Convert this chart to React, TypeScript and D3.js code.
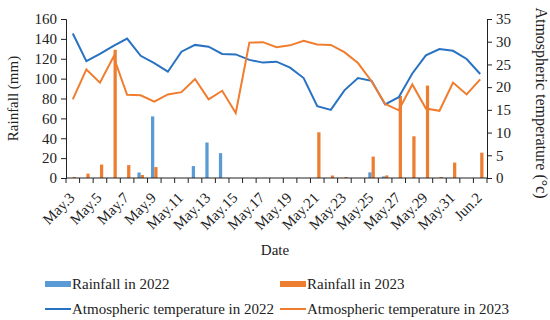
import React, { useEffect, useRef } from 'react';
import * as d3 from 'd3';

const dates = [
  'May.3', 'May.4', 'May.5', 'May.6', 'May.7', 'May.8', 'May.9', 'May.10', 'May.11', 'May.12',
  'May.13', 'May.14', 'May.15', 'May.16', 'May.17', 'May.18', 'May.19', 'May.20', 'May.21', 'May.22',
  'May.23', 'May.24', 'May.25', 'May.26', 'May.27', 'May.28', 'May.29', 'May.30', 'May.31', 'Jun.1', 'Jun.2',
];

const rain2022 = [0, 0, 0, 0, 0, 5.5, 62, 0, 0, 12, 35.7, 25, 0, 0, 0, 0, 0, 0, 0, 0, 0, 0, 5.7, 1.6, 0, 0, 0, 0, 0, 0, 0];
const rain2023 = [1, 4.4, 13.5, 129, 13, 3, 11, 0, 0, 0, 0, 0, 0, 0, 0, 0, 0, 0, 46, 2.5, 1, 0, 21.5, 2.6, 82.5, 42, 93, 1, 15.5, 0, 25.5];
const temp2022 = [31.8, 25.7, 27.3, 29.1, 30.7, 26.9, 25.3, 23.4, 27.8, 29.3, 28.9, 27.3, 27.2, 26.0, 25.4, 25.6, 24.3, 22.0, 15.8, 15.0, 19.3, 22.0, 21.4, 16.2, 17.8, 23.0, 27.0, 28.4, 28.0, 26.2, 22.9];
const temp2023 = [17.3, 23.9, 21.0, 26.7, 18.3, 18.2, 16.8, 18.4, 18.9, 21.8, 17.3, 19.2, 14.3, 29.8, 29.9, 28.8, 29.2, 30.2, 29.4, 29.3, 27.7, 25.3, 21.3, 16.3, 14.9, 20.6, 15.3, 14.8, 21.0, 18.4, 21.7];

const rainTicks = [0, 20, 40, 60, 80, 100, 120, 140, 160];
const tempTicks = [0, 5, 10, 15, 20, 25, 30, 35];

const BAR22 = '#5B9BD5';
const BAR23 = '#ED7D31';
const LINE22 = '#2872C2';
const LINE23 = '#F07D2E';
const FONT = '"Liberation Serif", "Times New Roman", serif';

const App = () => {
  const svgRef = useRef(null);

  useEffect(() => {
    const svg = d3.select(svgRef.current);
    svg.selectAll('*').remove();

    const left = 66, right = 487, top = 19, bottom = 178;

    const x = d3.scaleBand().domain(dates).range([left, right]).paddingInner(0).paddingOuter(0);
    const bw = x.bandwidth();
    const xs = d3.scaleBand().domain(['2022', '2023']).range([bw * 0.26, bw * 0.74]);
    const yL = d3.scaleLinear().domain([0, 160]).range([bottom, top]);
    const yR = d3.scaleLinear().domain([0, 35]).range([bottom, top]);

    const g = svg.append('g').style('font-family', FONT);

    // bars
    const drawBars = (vals, key, color) => {
      g.append('g').selectAll('rect')
        .data(vals.map((v, i) => ({ v, d: dates[i] })))
        .enter().append('rect')
        .attr('x', d => x(d.d) + xs(key))
        .attr('width', xs.bandwidth())
        .attr('y', d => yL(d.v))
        .attr('height', d => bottom - yL(d.v))
        .attr('fill', color);
    };
    drawBars(rain2022, '2022', BAR22);
    drawBars(rain2023, '2023', BAR23);

    // lines
    const line = d3.line()
      .x((d, i) => x(dates[i]) + bw / 2)
      .y(d => yR(d));
    g.append('path').datum(temp2022).attr('d', line)
      .attr('fill', 'none').attr('stroke', LINE22).attr('stroke-width', 2);
    g.append('path').datum(temp2023).attr('d', line)
      .attr('fill', 'none').attr('stroke', LINE23).attr('stroke-width', 2);

    // left axis
    const axL = g.append('g').attr('transform', `translate(${left},0)`)
      .call(d3.axisLeft(yL).tickValues(rainTicks).tickSize(5).tickPadding(4));
    axL.selectAll('text').style('font-size', '15px').style('font-family', FONT).attr('fill', '#222');

    // right axis
    const axR = g.append('g').attr('transform', `translate(${right},0)`)
      .call(d3.axisRight(yR).tickValues(tempTicks).tickSize(5).tickPadding(4));
    axR.selectAll('text').style('font-size', '15px').style('font-family', FONT).attr('fill', '#222');

    // x axis
    const axX = g.append('g').attr('transform', `translate(0,${bottom})`);
    axX.append('line').attr('x1', left).attr('x2', right).attr('stroke', '#222');
    const bounds = d3.range(dates.length + 1).map(i => left + i * bw);
    axX.selectAll('.tk').data(bounds).enter().append('line')
      .attr('x1', d => d).attr('x2', d => d).attr('y1', 0).attr('y2', 5)
      .attr('stroke', '#222');
    axX.selectAll('.lbl').data(dates.filter((d, i) => i % 2 === 0)).enter().append('text')
      .attr('transform', d => `translate(${x(d) + bw / 2 - 1},${17}) rotate(-45)`)
      .attr('text-anchor', 'end')
      .attr('dy', '0.35em')
      .style('font-size', '15px')
      .attr('fill', '#222')
      .text(d => d);

    g.selectAll('.domain').attr('stroke', '#222');
    g.selectAll('.tick line').attr('stroke', '#222');

    // titles
    g.append('text').attr('transform', `translate(18,${(top + bottom) / 2}) rotate(-90)`)
      .attr('text-anchor', 'middle').style('font-size', '15px').attr('fill', '#222')
      .text('Rainfall (mm)');
    g.append('text').attr('transform', `translate(536,103) rotate(90)`)
      .attr('text-anchor', 'middle').style('font-size', '16px').attr('fill', '#222')
      .text('Atmospheric temperature (°c)');
    g.append('text').attr('x', 275).attr('y', 255)
      .attr('text-anchor', 'middle').style('font-size', '15px').attr('fill', '#222')
      .text('Date');

    // legend
    const legend = [
      { label: 'Rainfall in 2022', color: BAR22, type: 'bar', lx: 45, ly: 284 },
      { label: 'Rainfall in 2023', color: BAR23, type: 'bar', lx: 280, ly: 284 },
      { label: 'Atmospheric temperature in 2022', color: LINE22, type: 'line', lx: 45, ly: 309 },
      { label: 'Atmospheric temperature in 2023', color: LINE23, type: 'line', lx: 280, ly: 309 },
    ];
    legend.forEach(l => {
      if (l.type === 'bar') {
        g.append('rect').attr('x', l.lx).attr('y', l.ly - 3).attr('width', 26).attr('height', 6).attr('fill', l.color);
      } else {
        g.append('line').attr('x1', l.lx).attr('x2', l.lx + 26).attr('y1', l.ly).attr('y2', l.ly)
          .attr('stroke', l.color).attr('stroke-width', 2);
      }
      g.append('text').attr('x', l.lx + 27).attr('y', l.ly).attr('dy', '0.35em')
        .style('font-size', '15px').attr('fill', '#222').text(l.label);
    });
  }, []);

  return (
    <svg ref={svgRef} width={550} height={320}
      style={{ position: 'absolute', left: 0, top: 0, background: '#fff' }} />
  );
};

export default App;
